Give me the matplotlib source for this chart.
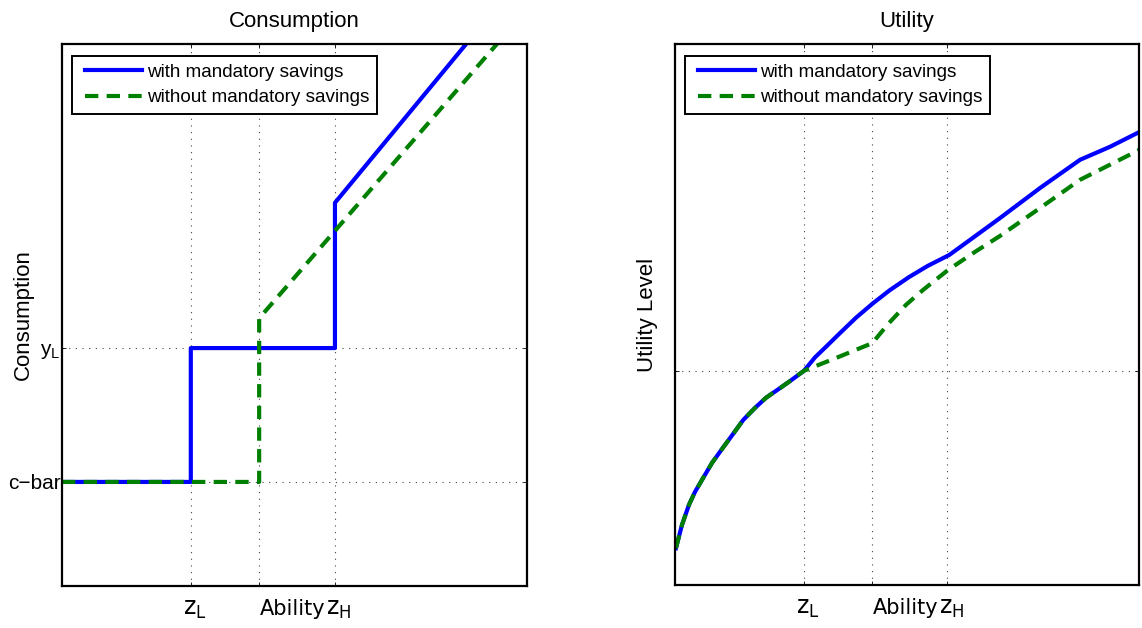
import numpy as np
import matplotlib.pyplot as plt
import matplotlib.transforms as mtransforms
from matplotlib.legend_handler import HandlerLine2D
from matplotlib.lines import Line2D

# ability axis ticks (normalised 0..1)
z_low = 0.277
z_mid = 0.424
z_high = 0.587

# consumption panel
c_bar = 0.192
y_low = 0.439
cons_with_x = [0.0, z_low, z_low, z_high, z_high, 1.0]
cons_with_y = [c_bar, c_bar, y_low, y_low, 0.707, 1.136]
cons_without_x = [0.0, z_mid, z_mid, 1.0]
cons_without_y = [c_bar, c_bar, 0.494, 1.064]

# utility panel
u_ref = 0.396
util_common_x = [0.002, 0.015, 0.030, 0.043, 0.058, 0.080, 0.101, 0.125, 0.147,
                 0.172, 0.196, 0.218, 0.248, 0.278]
util_common_y = [0.068, 0.111, 0.148, 0.172, 0.194, 0.226, 0.251, 0.279, 0.305,
                 0.327, 0.346, 0.359, 0.377, 0.396]
util_with_x = [0.302, 0.325, 0.356, 0.390, 0.427, 0.463, 0.504, 0.545, 0.591,
               0.636, 0.700, 0.787, 0.873, 0.9375, 1.0]
util_with_y = [0.421, 0.440, 0.466, 0.494, 0.521, 0.545, 0.569, 0.590, 0.610,
               0.638, 0.678, 0.734, 0.786, 0.810, 0.837]
util_without_x = [0.351, 0.425, 0.461, 0.498, 0.534, 0.588, 0.647, 0.700, 0.787,
                  0.873, 1.0]
util_without_y = [0.421, 0.447, 0.484, 0.518, 0.545, 0.582, 0.616, 0.645, 0.697,
                  0.749, 0.804]

labels = ['with mandatory savings', 'without mandatory savings']
BLUE = '#0000ff'
GREEN = '#008000'
HELV = 'Liberation Sans'

plt.rcParams['font.family'] = [HELV, 'DejaVu Sans']
plt.rcParams['mathtext.fontset'] = 'dejavusans'

fig = plt.figure(figsize=(11.42, 6.28), dpi=100)
ax1 = fig.add_axes([62/1142, 42/628, 465/1142, 542/628])
ax2 = fig.add_axes([675/1142, 43/628, 464/1142, 541/628])


def style(ax, yticks, yticklabels, title, ylabel, ylab_x):
    ax.set_xlim(0, 1)
    ax.set_ylim(0, 1)
    ax.set_xticks([z_low, z_mid, z_high])
    ax.set_xticklabels([r'$\mathregular{z_L}$', '', r'$\mathregular{z_H}$'],
                       fontfamily='DejaVu Sans', fontsize=17)
    ax.set_yticks(yticks)
    ax.set_yticklabels(yticklabels, fontsize=15)
    ax.tick_params(direction='in', length=3, width=0.6, top=True, right=True)
    ax.tick_params(axis='x', pad=8)
    ax.tick_params(axis='y', pad=1)
    # matlab centres the tex string, so the z sits a bit right of the tick
    shift = mtransforms.ScaledTranslation(4/100, 0, fig.dpi_scale_trans)
    for tick in ax.xaxis.get_major_ticks():
        tick.label1.set_transform(tick.label1.get_transform() + shift)
    ax.grid(True, color='#444444', linestyle=(0, (1, 5)), linewidth=0.8)
    for s in ax.spines.values():
        s.set_linewidth(1.6)
    ax.set_title(title, fontsize=16, pad=12)
    ax.set_ylabel(ylabel, fontsize=16)
    ax.yaxis.set_label_coords(ylab_x, 0.5)
    ax.set_xlabel('Ability', fontfamily='DejaVu Sans', fontsize=15)
    ax.xaxis.set_label_coords(0.497, -0.024)
    leg = ax.legend(loc='upper left', bbox_to_anchor=(0.022, 0.978), fontsize=13.6,
                    handlelength=3.3, handletextpad=0.28, borderpad=0.4,
                    labelspacing=0.45, fancybox=False, framealpha=1,
                    edgecolor='black', borderaxespad=0,
                    handler_map={Line2D: HandlerLine2D(xpad=0.3)})
    leg.get_frame().set_linewidth(1.4)


ax1.plot(cons_with_x, cons_with_y, color=BLUE, lw=3, label=labels[0])
ax1.plot(cons_without_x, cons_without_y, color=GREEN, lw=3, dashes=(3.2, 2), label=labels[1])
style(ax1, [c_bar, y_low], ['c\u2212bar', r'$\mathregular{y_L}$'], 'Consumption',
      'Consumption', -0.060)

uw_x = util_common_x + util_with_x
uw_y = util_common_y + util_with_y
uo_x = util_common_x + util_without_x
uo_y = util_common_y + util_without_y
ax2.plot(uw_x, uw_y, color=BLUE, lw=3, label=labels[0])
ax2.plot(uo_x, uo_y, color=GREEN, lw=3, dashes=(3.2, 2), label=labels[1])
style(ax2, [u_ref], [''], 'Utility', 'Utility Level', -0.037)

fig.savefig('out.png', dpi=100)
